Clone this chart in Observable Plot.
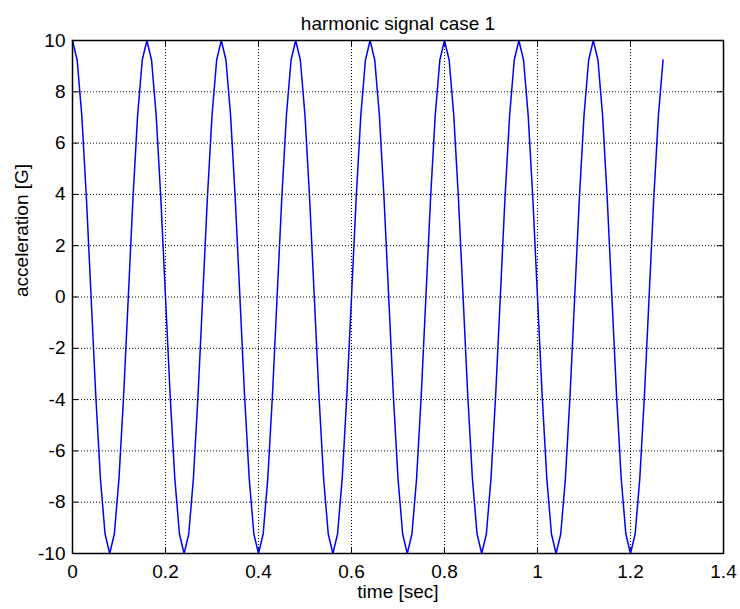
<!DOCTYPE html>
<html>
<head>
<meta charset="utf-8">
<script src="https://cdn.jsdelivr.net/npm/d3@7"></script>
<script src="https://cdn.jsdelivr.net/npm/@observablehq/plot@0.6"></script>
<style>
  html, body { margin: 0; padding: 0; background: #fff; }
  svg { display: block; }
</style>
</head>
<body>
<div id="chart"></div>
<script>
const title = "harmonic signal case 1";
const xLabel = "time [sec]";
const yLabel = "acceleration [G]";
const xTicks = [0, 0.2, 0.4, 0.6, 0.8, 1, 1.2, 1.4];
const yTicks = [-10, -8, -6, -4, -2, 0, 2, 4, 6, 8, 10];

const time = [
  0.00, 0.01, 0.02, 0.03, 0.04, 0.05, 0.06, 0.07, 0.08, 0.09, 0.10, 0.11, 0.12, 0.13, 0.14, 0.15,
  0.16, 0.17, 0.18, 0.19, 0.20, 0.21, 0.22, 0.23, 0.24, 0.25, 0.26, 0.27, 0.28, 0.29, 0.30, 0.31,
  0.32, 0.33, 0.34, 0.35, 0.36, 0.37, 0.38, 0.39, 0.40, 0.41, 0.42, 0.43, 0.44, 0.45, 0.46, 0.47,
  0.48, 0.49, 0.50, 0.51, 0.52, 0.53, 0.54, 0.55, 0.56, 0.57, 0.58, 0.59, 0.60, 0.61, 0.62, 0.63,
  0.64, 0.65, 0.66, 0.67, 0.68, 0.69, 0.70, 0.71, 0.72, 0.73, 0.74, 0.75, 0.76, 0.77, 0.78, 0.79,
  0.80, 0.81, 0.82, 0.83, 0.84, 0.85, 0.86, 0.87, 0.88, 0.89, 0.90, 0.91, 0.92, 0.93, 0.94, 0.95,
  0.96, 0.97, 0.98, 0.99, 1.00, 1.01, 1.02, 1.03, 1.04, 1.05, 1.06, 1.07, 1.08, 1.09, 1.10, 1.11,
  1.12, 1.13, 1.14, 1.15, 1.16, 1.17, 1.18, 1.19, 1.20, 1.21, 1.22, 1.23, 1.24, 1.25, 1.26, 1.27
];
const acceleration = [
  10, 9.24, 7.07, 3.83, 0, -3.83, -7.07, -9.24, -10, -9.24, -7.07, -3.83, 0, 3.83, 7.07, 9.24,
  10, 9.24, 7.07, 3.83, 0, -3.83, -7.07, -9.24, -10, -9.24, -7.07, -3.83, 0, 3.83, 7.07, 9.24,
  10, 9.24, 7.07, 3.83, 0, -3.83, -7.07, -9.24, -10, -9.24, -7.07, -3.83, 0, 3.83, 7.07, 9.24,
  10, 9.24, 7.07, 3.83, 0, -3.83, -7.07, -9.24, -10, -9.24, -7.07, -3.83, 0, 3.83, 7.07, 9.24,
  10, 9.24, 7.07, 3.83, 0, -3.83, -7.07, -9.24, -10, -9.24, -7.07, -3.83, 0, 3.83, 7.07, 9.24,
  10, 9.24, 7.07, 3.83, 0, -3.83, -7.07, -9.24, -10, -9.24, -7.07, -3.83, 0, 3.83, 7.07, 9.24,
  10, 9.24, 7.07, 3.83, 0, -3.83, -7.07, -9.24, -10, -9.24, -7.07, -3.83, 0, 3.83, 7.07, 9.24,
  10, 9.24, 7.07, 3.83, 0, -3.83, -7.07, -9.24, -10, -9.24, -7.07, -3.83, 0, 3.83, 7.07, 9.24
];

const data = time.map((t, i) => ({t, a: acceleration[i]}));

const W = 740, H = 609;
const mL = 72, mR = 17, mT = 40, mB = 56;
const pw = W - mL - mR, ph = H - mT - mB;
const tickLen = 6;
const fontFamily = "'Liberation Sans', Arial, Helvetica, sans-serif";

const chart = Plot.plot({
  width: W,
  height: H,
  marginLeft: mL,
  marginRight: mR,
  marginTop: mT,
  marginBottom: mB,
  style: { fontFamily, fontSize: "19px", color: "#000", background: "#fff" },
  x: { domain: [0, 1.4], ticks: xTicks },
  y: { domain: [-10, 10], ticks: yTicks },
  marks: [
    Plot.gridX(xTicks, { stroke: "#000", strokeOpacity: 1, strokeWidth: 1, strokeDasharray: "1,2" }),
    Plot.gridY(yTicks, { stroke: "#000", strokeOpacity: 1, strokeWidth: 1, strokeDasharray: "1,2" }),
    Plot.tickX(xTicks, { x: d => d, stroke: "#000", strokeWidth: 1, insetTop: ph - tickLen }),
    Plot.tickX(xTicks, { x: d => d, stroke: "#000", strokeWidth: 1, insetBottom: ph - tickLen }),
    Plot.tickY(yTicks, { y: d => d, stroke: "#000", strokeWidth: 1, insetRight: pw - tickLen }),
    Plot.tickY(yTicks, { y: d => d, stroke: "#000", strokeWidth: 1, insetLeft: pw - tickLen }),
    Plot.axisX(xTicks, { tickSize: 0, tickPadding: 11, label: null, tickFormat: d => String(d), fill: "#000" }),
    Plot.axisY(yTicks, { tickSize: 0, tickPadding: 7, label: null, tickFormat: d => String(d), fill: "#000" }),
    Plot.line(data, { x: "t", y: "a", stroke: "#0000ff", strokeWidth: 1.5 }),
    Plot.frame({ stroke: "#000", strokeWidth: 1.5 }),
    Plot.text([title], { frameAnchor: "top", dy: -24, text: d => d, fill: "#000", fontSize: 19 }),
    Plot.text([xLabel], { frameAnchor: "bottom", dy: 44, text: d => d, fill: "#000", fontSize: 19 }),
    Plot.text([yLabel], { frameAnchor: "left", dx: -51, rotate: -90, text: d => d, fill: "#000", fontSize: 19 })
  ]
});

document.getElementById("chart").appendChild(chart);
</script>
</body>
</html>
